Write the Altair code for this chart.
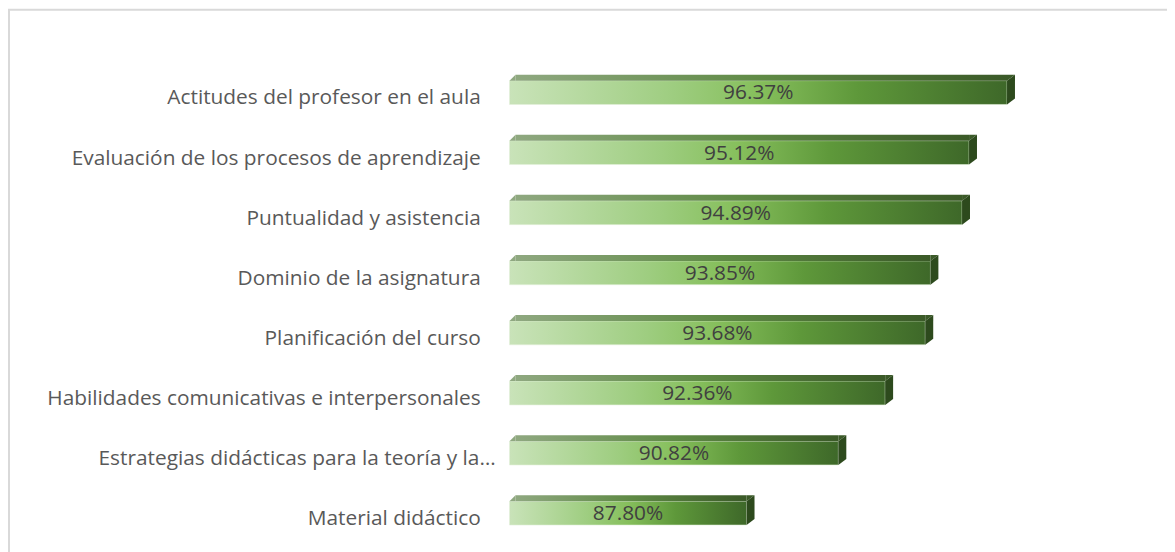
import altair as alt
import pandas as pd

categories = [
    "Actitudes del profesor en el aula",
    "Evaluación de los procesos de aprendizaje",
    "Puntualidad y asistencia",
    "Dominio de la asignatura",
    "Planificación del curso",
    "Habilidades comunicativas e interpersonales",
    "Estrategias didácticas para la teoría y la…",
    "Material didáctico",
]
values = [96.37, 95.12, 94.89, 93.85, 93.68, 92.36, 90.82, 87.80]
value_labels = ["96.37%", "95.12%", "94.89%", "93.85%", "93.68%", "92.36%", "90.82%", "87.80%"]
axis_min = 80
axis_max = 100

df = pd.DataFrame({"cat": categories, "val": values, "label": value_labels})
df["base"] = axis_min
df["truncated"] = df["cat"].str.endswith("…")

PAD_L = 505
PAD_T = 53
W = 612
H = 484

base = alt.Chart(df)
ysc = alt.Scale(paddingInner=0, paddingOuter=0)
y = alt.Y("cat:N", sort=None, axis=None, scale=ysc)
xsc = alt.Scale(domain=[axis_min, axis_max], nice=False, zero=False)
x0 = alt.X("base:Q", scale=xsc, axis=None)
x1 = alt.X("val:Q", scale=xsc, axis=None)

front_grad = alt.LinearGradient(
    gradient="linear", x1=0, x2=1, y1=0, y2=0,
    stops=[
        alt.GradientStop(offset=0, color="#c9e3b9"),
        alt.GradientStop(offset=0.33, color="#9ecd80"),
        alt.GradientStop(offset=0.5, color="#86bf5c"),
        alt.GradientStop(offset=0.7, color="#5e983a"),
        alt.GradientStop(offset=1, color="#3e6829"),
    ],
)
top_grad = alt.LinearGradient(
    gradient="linear", x1=0, x2=1, y1=0, y2=0,
    stops=[
        alt.GradientStop(offset=0, color="#8fa880"),
        alt.GradientStop(offset=0.5, color="#5f8a45"),
        alt.GradientStop(offset=1, color="#3b5a28"),
    ],
)

front = base.mark_bar(size=24, color=front_grad, stroke="#e3f0da", strokeWidth=0.6).encode(
    y=y, x=x0, x2="val:Q"
)
top = base.mark_bar(size=6, color=top_grad, xOffset=6, yOffset=-15).encode(
    y=y, x=x0, x2="val:Q"
)
top_left = base.mark_point(
    shape="M0,-12 L6,-12 L6,-18 Z", size=4, filled=True, opacity=1, strokeWidth=0, color="#8fa880"
).encode(y=y, x=x0)
top_right = base.mark_point(
    shape="M0,-12 L0,-18 L8,-18 Z", size=4, filled=True, opacity=1, strokeWidth=0, color="#3b5a28"
).encode(y=y, x=x1)
side = base.mark_point(
    shape="M0,-12 L8,-18 L8,6 L0,12 Z", size=4, filled=True, opacity=1, strokeWidth=0, color="#2d4a1d"
).encode(y=y, x=x1)

vals = base.transform_calculate(mid="(datum.base + datum.val) / 2").mark_text(
    align="center", baseline="middle", font="Open Sans", fontSize=21, color="#404040", dy=1
).encode(y=y, x=alt.X("mid:Q", scale=xsc, axis=None), text="label:N")

cat_style = dict(align="right", baseline="middle", font="Open Sans", fontSize=21, color="#595959", dy=6)
cats = base.transform_filter("!datum.truncated").mark_text(**cat_style).encode(
    y=y, x=alt.value(-29), text="cat:N"
)
cats_trunc = base.transform_filter("datum.truncated").mark_text(**cat_style).encode(
    y=y, x=alt.value(-14), text="cat:N"
)

frame_df = pd.DataFrame({"k": [0]})
frame = alt.Chart(frame_df).mark_rect(
    fill="transparent", stroke="#d9d9d9", strokeWidth=2
).encode(
    x=alt.value(-PAD_L + 1), x2=alt.value(W + 200), y=alt.value(-PAD_T + 0), y2=alt.value(H + 100)
)

chart = alt.layer(frame, front, top, top_left, top_right, side, vals, cats, cats_trunc).properties(
    width=W,
    height=H,
    autosize=alt.AutoSizeParams(type="none"),
    padding={"left": PAD_L, "top": PAD_T, "right": 1167 - PAD_L - W, "bottom": 544 - PAD_T - H},
    background="white",
).configure_view(strokeWidth=0)

chart.save("out.html", embed_options={"renderer": "svg", "actions": False})
